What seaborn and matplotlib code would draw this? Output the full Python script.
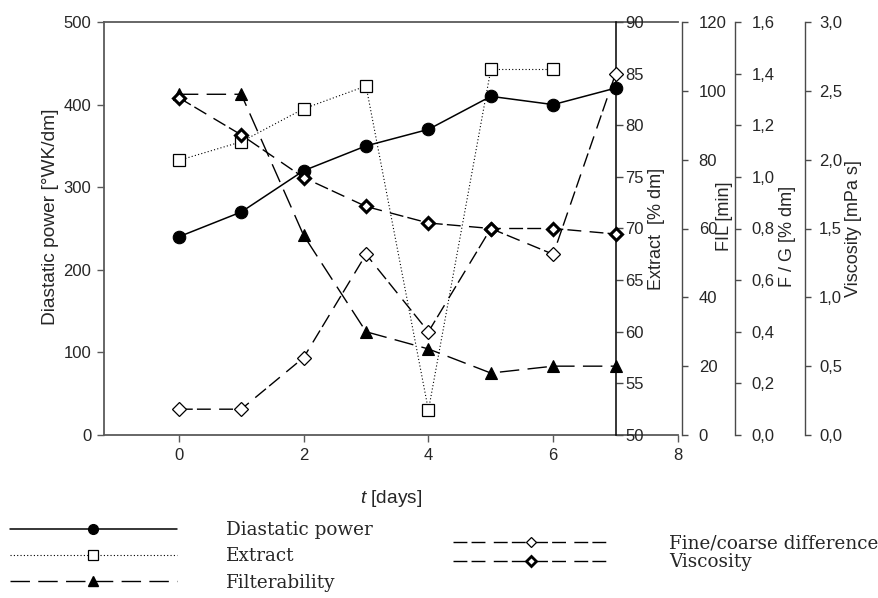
import numpy as np
import matplotlib
matplotlib.use("Agg")
import matplotlib.pyplot as plt
from matplotlib.lines import Line2D
from matplotlib.ticker import FuncFormatter, MultipleLocator
import seaborn as sns

# data
days = [0, 1, 2, 3, 4, 5, 6, 7]
diastatic_power = [240, 270, 320, 350, 370, 410, 400, 420]          # °WK/dm
extract = [76.6, 78.4, 81.6, 83.8, 52.4, 85.4, 85.4]                 # % dm (no day 7)
filterability = [99, 99, 58, 30, 25, 18, 20, 20]                     # min
fine_coarse = [0.1, 0.1, 0.3, 0.7, 0.4, 0.8, 0.7, 1.4]               # % dm
viscosity = [2.45, 2.18, 1.87, 1.66, 1.54, 1.50, 1.50, 1.46]         # mPa s

legend_left = ["Diastatic power", "Extract", "Filterability"]
legend_right = ["Fine/coarse difference", "Viscosity"]

sns.set_style("white")
plt.rcParams["font.family"] = ["Liberation Sans", "DejaVu Sans"]
plt.rcParams["mathtext.fontset"] = "custom"
plt.rcParams["mathtext.it"] = "Liberation Sans:italic"
plt.rcParams["mathtext.rm"] = "Liberation Sans"

W, H = 879, 598
fig = plt.figure(figsize=(W / 100, H / 100), dpi=100)

x0, x1, y0, y1 = 104, 678, 22, 435
ax = fig.add_axes([x0 / W, 1 - y1 / H, (x1 - x0) / W, (y1 - y0) / H])
ax.patch.set_alpha(0)

frame_col = "#5a5a5a"
axis_col = "#4a4a4a"
fs = 12
lab_fs = 13.8
rlab_fs = 13

def comma(dec):
    return FuncFormatter(lambda v, p: f"{v:.{dec}f}".replace(".", ","))

# main axis: diastatic power
sns.lineplot(x=days, y=diastatic_power, ax=ax, color="black", lw=1.1,
             marker="o", markersize=9, markerfacecolor="black",
             markeredgecolor="black", markeredgewidth=0.8)
ax.set_xlim(-1.2, 8)
ax.set_ylim(0, 500)
ax.xaxis.set_major_locator(MultipleLocator(2))
ax.yaxis.set_major_locator(MultipleLocator(100))
for s in ["left", "bottom", "top"]:
    ax.spines[s].set_color(frame_col)
    ax.spines[s].set_linewidth(1.3)
ax.spines["right"].set_visible(False)
ax.tick_params(axis="both", direction="out", length=5, width=1, color=frame_col,
               labelsize=fs, pad=4, bottom=True, left=True)
ax.set_xlabel("$t$ [days]", fontsize=lab_fs)
ax.xaxis.set_label_coords(0.5, -0.128)
ax.set_ylabel("Diastatic power [°WK/dm]", fontsize=lab_fs)
ax.yaxis.set_label_coords(-0.094, 0.528)
ax.yaxis.label.set_va("center")

# extract axis at day 7
ax_e = ax.twinx()
sns.lineplot(x=days[:len(extract)], y=extract, ax=ax_e, color="black", lw=0.8,
             linestyle=(0, (1, 2)), marker="s", markersize=8,
             markerfacecolor="white", markeredgecolor="black", markeredgewidth=0.9)
ax_e.set_ylim(50, 90)
ax_e.set_xlim(-1.2, 8)
ax_e.yaxis.set_major_locator(MultipleLocator(5))
for s in ["left", "top", "bottom"]:
    ax_e.spines[s].set_visible(False)
ax_e.spines["right"].set_position(("data", 7))
ax_e.spines["right"].set_color("black")
ax_e.spines["right"].set_linewidth(1.1)
ax_e.tick_params(axis="y", direction="out", length=5, width=1, color=axis_col,
                 labelsize=fs, pad=2, right=True)
ax_e.set_ylabel("Extract  [% dm]", fontsize=rlab_fs)
ax_e.yaxis.set_label_coords(0.963, 0.5)
ax_e.yaxis.label.set_va("center")


def extra_axis(pos, lim, step, label, lab_x, lab_y, pad, fmt=None):
    a = ax.twinx()
    a.set_xlim(-1.2, 8)
    a.set_ylim(*lim)
    a.yaxis.set_major_locator(MultipleLocator(step))
    if fmt is not None:
        a.yaxis.set_major_formatter(fmt)
    for s in ["left", "top", "bottom"]:
        a.spines[s].set_visible(False)
    a.spines["right"].set_position(("axes", pos))
    a.spines["right"].set_color(axis_col)
    a.spines["right"].set_linewidth(1.0)
    a.tick_params(axis="y", direction="out", length=4, width=1, color=axis_col,
                  labelsize=fs, pad=pad, right=True)
    a.set_ylabel(label, fontsize=rlab_fs)
    a.yaxis.set_label_coords(lab_x, lab_y)
    a.yaxis.label.set_va("center")
    return a


ax_f = extra_axis((682 - x0) / (x1 - x0), (0, 120), 20, "FIL [min]", 1.081, 0.53, 8)
sns.lineplot(x=days, y=filterability, ax=ax_f, color="black", lw=1.0,
             linestyle=(0, (14, 6)), marker="^", markersize=8.5,
             markerfacecolor="black", markeredgecolor="black", markeredgewidth=0.8)

ax_g = extra_axis((735 - x0) / (x1 - x0), (0, 1.6), 0.2, "F / G [% dm]", 1.19, 0.48, 8,
                  comma(1))
sns.lineplot(x=days, y=fine_coarse, ax=ax_g, color="black", lw=1.0,
             linestyle=(0, (10, 3, 10, 6)), marker="D", markersize=7,
             markerfacecolor="white", markeredgecolor="black", markeredgewidth=0.9)

ax_v = extra_axis((805 - x0) / (x1 - x0), (0, 3.0), 0.5, "Viscosity [mPa s]", 1.305, 0.5, 6,
                  comma(1))
sns.lineplot(x=days, y=viscosity, ax=ax_v, color="black", lw=1.0,
             linestyle=(0, (10, 3, 10, 6)), marker="D", markersize=6.5,
             markerfacecolor="white", markeredgecolor="black", markeredgewidth=2.2)

# legends below the plot
serif = {"family": ["DejaVu Serif"], "size": 13.2}
h_left = [
    Line2D([], [], color="black", lw=1.1, marker="o", ms=7, mfc="black", mec="black"),
    Line2D([], [], color="black", lw=0.8, linestyle=(0, (1, 2)), marker="s", ms=7,
           mfc="white", mec="black", mew=0.9),
    Line2D([], [], color="black", lw=1.0, linestyle=(0, (14, 6)), marker="^", ms=7,
           mfc="black", mec="black"),
]
h_right = [
    Line2D([], [], color="black", lw=1.0, linestyle=(0, (10, 3, 10, 6)), marker="D", ms=5.5,
           mfc="white", mec="black", mew=0.9),
    Line2D([], [], color="black", lw=1.0, linestyle=(0, (10, 3, 10, 6)), marker="D", ms=5.5,
           mfc="white", mec="black", mew=2.0),
]
fig.legend(h_left, legend_left, loc="upper left", bbox_to_anchor=(10 / W, 1 - 521 / H),
           frameon=False, prop=serif, handlelength=9.1, handletextpad=2.7,
           labelspacing=0.45, borderpad=0, borderaxespad=0, numpoints=1)
fig.legend(h_right, legend_right, loc="upper left", bbox_to_anchor=(453 / W, 1 - 534 / H),
           frameon=False, prop=serif, handlelength=8.5, handletextpad=3.3,
           labelspacing=0.05, borderpad=0, borderaxespad=0, numpoints=1)

fig.savefig("out.png", dpi=100)
